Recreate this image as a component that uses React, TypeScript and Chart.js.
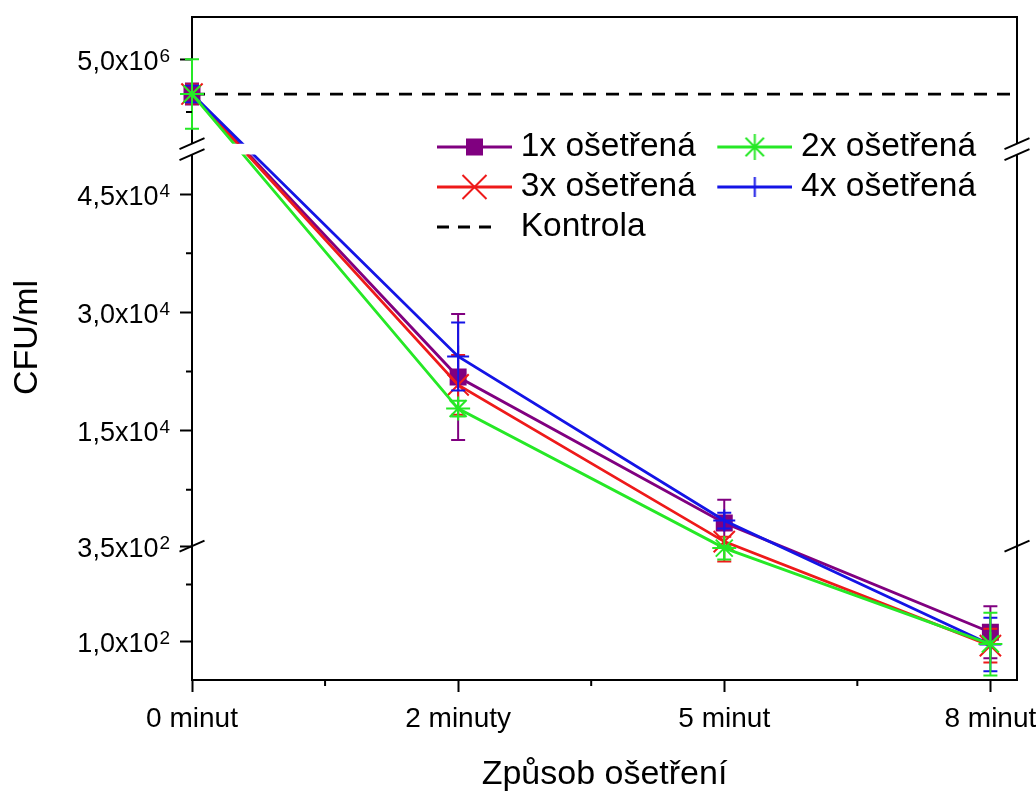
import React, { useEffect, useRef } from 'react';
import { Chart, registerables, LinearScale } from 'chart.js';

// ---------------- data ----------------
const CATEGORIES = ['0 minut', '2 minuty', '5 minut', '8 minut'];
const SERIES_NAMES = ['1x ošetřená', '2x ošetřená', '3x ošetřená', '4x ošetřená'];
const CONTROL_NAME = 'Kontrola';
const X_TITLE = 'Způsob ošetření';
const Y_TITLE = 'CFU/ml';

const ONE_X = [4.67e6, 21800, 3300, 125];
const ONE_X_ERR = [0.1e6, 8000, 2950, 68];
const TWO_X = [4.67e6, 17800, 345, 94];
const TWO_X_ERR = [0.33e6, 1000, 30, 82];
const THREE_X = [4.67e6, 20800, 930, 90];
const THREE_X_ERR = [0.09e6, 3800, 620, 44];
const FOUR_X = [4.67e6, 24400, 3600, 93];
const FOUR_X_ERR = [0.08e6, 4300, 1000, 70];
const CONTROL_VALUE = 4.67e6;

const Y_MAJOR_TICKS = [100, 350, 15000, 30000, 45000, 5e6];
const Y_TICK_MANTISSA = ['1,0x10', '3,5x10', '1,5x10', '3,0x10', '4,5x10', '5,0x10'];
const Y_TICK_EXPONENT = ['2', '2', '4', '4', '4', '6'];
const Y_MINOR_TICKS = [250, 7500, 22500, 37500, 4.5e6];
const X_MINOR_TICKS = [0.5, 1.5, 2.5];
const X_MAX = 3.1;

// ---------------- styling ----------------
const FONT = "'Liberation Sans', Arial, sans-serif";
const PURPLE = '#800080';
const GREEN = '#26e826';
const RED = '#ee1a1a';
const BLUE = '#1414e6';
const Y_TICK_SIZE = 27;
const SUP_SIZE = 19;
const X_TICK_SIZE = 28;
const TITLE_SIZE = 34;
const LEGEND_SIZE = 33.5;
const LEGEND_SAMPLE_X = 437;
const LEGEND_SAMPLE_LEN = 75;
const LEGEND_OVERHANG = 8;
const LEGEND_ROW1_Y = 147;
const LEGEND_COL_STEP = 280;
const LEGEND_ROW_STEP = 40;
const LINE_W = 2.8;
const CAP = 7;

// ---------------- broken y-axis definition ----------------
type Seg = { from: number; to: number; size: number; gapBefore?: number };
const Y_SEGMENTS: Seg[] = [
  { from: 0, to: 350, size: 134.4 },
  { from: 350, to: 50000, size: 393.3 },
  { from: 4.2e6, to: 5.4e6, size: 127.2, gapBefore: 11 },
];
const Y_TOTAL = Y_SEGMENTS.reduce((s, g) => s + g.size + (g.gapBefore || 0), 0);
const Y_TITLE_SHIFT = -11;

function toDisplay(v: number): number {
  let off = 0;
  for (let k = 0; k < Y_SEGMENTS.length; k++) {
    const s = Y_SEGMENTS[k];
    off += s.gapBefore || 0;
    if (v <= s.to || k === Y_SEGMENTS.length - 1) {
      if (k > 0 && v < s.from) return off;
      return off + ((v - s.from) / (s.to - s.from)) * s.size;
    }
    off += s.size;
  }
  return off;
}
function fromDisplay(d: number): number {
  let off = 0;
  for (let k = 0; k < Y_SEGMENTS.length; k++) {
    const s = Y_SEGMENTS[k];
    off += s.gapBefore || 0;
    if (d <= off + s.size || k === Y_SEGMENTS.length - 1) {
      return s.from + ((d - off) / s.size) * (s.to - s.from);
    }
    off += s.size;
  }
  return 0;
}

class BrokenLinearScale extends LinearScale {
  static id = 'brokenLinear';
  static defaults = {};
  determineDataLimits() {
    (this as any).min = Y_SEGMENTS[0].from;
    (this as any).max = Y_SEGMENTS[Y_SEGMENTS.length - 1].to;
  }
  buildTicks() {
    return Y_MAJOR_TICKS.map((value) => ({ value })) as any;
  }
  getPixelForValue(value: number) {
    return this.getPixelForDecimal(toDisplay(value) / Y_TOTAL);
  }
  getValueForPixel(pixel: number) {
    return fromDisplay(this.getDecimalForPixel(pixel) * Y_TOTAL);
  }
  drawTitle() {
    const t = (this as any).top;
    (this as any).top = t + 2 * Y_TITLE_SHIFT;
    (LinearScale.prototype as any).drawTitle.call(this);
    (this as any).top = t;
  }
  drawLabels() {
    const self = this as any;
    const ctx: CanvasRenderingContext2D = self.ctx;
    const opts = self.options;
    const xRight = self.right - opts.grid.tickLength - opts.ticks.padding;
    const capH = 0.716 * Y_TICK_SIZE;
    ctx.save();
    ctx.fillStyle = '#000';
    ctx.textBaseline = 'alphabetic';
    self.ticks.forEach((t: any) => {
      const i = Y_MAJOR_TICKS.indexOf(t.value);
      if (i < 0) return;
      const y = this.getPixelForValue(t.value);
      const base = y + capH / 2 + 1;
      ctx.font = `${SUP_SIZE}px ${FONT}`;
      const ew = ctx.measureText(Y_TICK_EXPONENT[i]).width;
      ctx.textAlign = 'left';
      ctx.fillText(Y_TICK_EXPONENT[i], xRight - ew, base - 8);
      ctx.font = `${Y_TICK_SIZE}px ${FONT}`;
      ctx.textAlign = 'right';
      ctx.fillText(Y_TICK_MANTISSA[i], xRight - ew - 1, base);
    });
    ctx.restore();
  }
}

Chart.register(...registerables, BrokenLinearScale as any);

function makeLegendImage(kind: string, color: string, boxW: number, h: number) {
  const c = document.createElement('canvas');
  c.width = boxW + 2 * LEGEND_OVERHANG;
  c.height = h;
  const g = c.getContext('2d')!;
  const x1 = c.width;
  const x0 = x1 - LEGEND_SAMPLE_LEN;
  const cy = h / 2;
  const cx = (x0 + x1) / 2;
  g.strokeStyle = color;
  g.fillStyle = color;
  g.lineWidth = LINE_W;
  g.beginPath();
  if (kind === 'dash') {
    g.setLineDash([12, 9]);
    g.moveTo(x0, cy);
    g.lineTo(x0 + 54, cy);
    g.stroke();
    return c;
  }
  g.moveTo(x0, cy);
  g.lineTo(x1, cy);
  g.stroke();
  g.lineWidth = 2;
  g.beginPath();
  if (kind === 'rect') {
    g.fillRect(cx - 8.5, cy - 8.5, 17, 17);
  } else if (kind === 'star') {
    const r = 13;
    for (let k = 0; k < 4; k++) {
      const a = (k * Math.PI) / 4;
      g.moveTo(cx - Math.cos(a) * r, cy - Math.sin(a) * r);
      g.lineTo(cx + Math.cos(a) * r, cy + Math.sin(a) * r);
    }
    g.stroke();
  } else if (kind === 'crossRot') {
    const r = 12;
    g.moveTo(cx - r, cy - r);
    g.lineTo(cx + r, cy + r);
    g.moveTo(cx + r, cy - r);
    g.lineTo(cx - r, cy + r);
    g.stroke();
  } else if (kind === 'cross') {
    g.moveTo(cx, cy - 10);
    g.lineTo(cx, cy + 10);
    g.stroke();
  }
  return c;
}

const errorBarsPlugin = {
  id: 'errorBars',
  afterDatasetDraw(chart: any, args: any) {
    const ds = chart.data.datasets[args.index];
    if (!ds.errors) return;
    const xs = chart.scales.x;
    const ys = chart.scales.y;
    const ctx = chart.ctx;
    ctx.save();
    ctx.strokeStyle = ds.borderColor;
    ctx.lineWidth = 2;
    ds.data.forEach((pt: any, j: number) => {
      const e = ds.errors[j];
      if (!e) return;
      const x = xs.getPixelForValue(pt.x);
      const y1 = ys.getPixelForValue(pt.y + e);
      const y2 = ys.getPixelForValue(pt.y - e);
      ctx.beginPath();
      ctx.moveTo(x, y1);
      ctx.lineTo(x, y2);
      ctx.moveTo(x - CAP, y1);
      ctx.lineTo(x + CAP, y1);
      ctx.moveTo(x - CAP, y2);
      ctx.lineTo(x + CAP, y2);
      ctx.stroke();
    });
    ctx.restore();
  },
};

const decorPlugin = {
  id: 'decor',
  beforeDatasetsDraw(chart: any) {
    const { ctx, width, height } = chart;
    const ys = chart.scales.y;
    const gTop = ys.getPixelForValue(Y_SEGMENTS[2].from);
    const gBot = ys.getPixelForValue(Y_SEGMENTS[1].to);
    ctx.save();
    ctx.beginPath();
    ctx.rect(0, 0, width, height);
    ctx.rect(0, gTop, width, gBot - gTop);
    ctx.clip('evenodd');
  },
  afterDatasetsDraw(chart: any) {
    const { ctx, chartArea: a } = chart;
    ctx.restore();
    const ys = chart.scales.y;
    const xs = chart.scales.x;
    const gTop = ys.getPixelForValue(Y_SEGMENTS[2].from);
    const gBot = ys.getPixelForValue(Y_SEGMENTS[1].to);
    const pLow = ys.getPixelForValue(Y_SEGMENTS[0].to);
    ctx.save();
    ctx.strokeStyle = '#000';
    ctx.lineWidth = 2;
    ctx.beginPath();
    ctx.moveTo(a.left - 1, a.top);
    ctx.lineTo(a.right, a.top);
    ctx.lineTo(a.right, gTop);
    ctx.moveTo(a.right, gBot);
    ctx.lineTo(a.right, a.bottom + 1);
    ctx.stroke();
    ctx.fillStyle = '#fff';
    ctx.fillRect(a.left - 3, gTop, 6, gBot - gTop);
    const slash = (x: number, y: number) => {
      ctx.moveTo(x - 12.5, y + 5.5);
      ctx.lineTo(x + 12.5, y - 5.5);
    };
    ctx.beginPath();
    [a.left, a.right].forEach((x: number) => {
      slash(x, gTop);
      slash(x, gBot);
      slash(x, pLow);
    });
    Y_MINOR_TICKS.forEach((v) => {
      const p = ys.getPixelForValue(v);
      ctx.moveTo(a.left - 6, p);
      ctx.lineTo(a.left, p);
    });
    X_MINOR_TICKS.forEach((v) => {
      const p = xs.getPixelForValue(v);
      ctx.moveTo(p, a.bottom);
      ctx.lineTo(p, a.bottom + 6);
    });
    ctx.stroke();
    ctx.restore();
  },
};

function makePlacer(legendLeft: number, legendTop: number, rowWidth: number) {
  return {
    id: 'legendPlacer',
    beforeLayout(chart: any) {
      const lg = chart.legend;
      if (lg && !lg.__patched) {
        const orig = lg.fit.bind(lg);
        lg.fit = function () {
          orig();
          this.height = 0;
        };
        lg.__patched = true;
      }
    },
    beforeDraw(chart: any) {
      const lg = chart.legend;
      if (!lg) return;
      lg.left = legendLeft;
      lg.top = legendTop;
      lg.right = legendLeft + rowWidth;
      lg.bottom = chart.chartArea.bottom;
      lg.width = lg.right - lg.left;
      lg.height = lg.bottom - lg.top;
    },
  };
}

const toPoints = (arr: number[]) => arr.map((y, i) => ({ x: i, y }));

export default function App() {
  const ref = useRef<HTMLCanvasElement>(null);
  useEffect(() => {
    const canvas = ref.current;
    if (!canvas) return;
    Chart.defaults.font.family = FONT;
    Chart.defaults.color = '#000';

    const mctx = document.createElement('canvas').getContext('2d')!;
    mctx.font = `${LEGEND_SIZE}px ${FONT}`;
    const textW = mctx.measureText(SERIES_NAMES[0]).width;
    const pad = LEGEND_ROW_STEP - LEGEND_SIZE;
    const boxW = Math.round(LEGEND_COL_STEP - LEGEND_SIZE / 2 - textW - pad);
    const boxEnd = LEGEND_SAMPLE_X + LEGEND_SAMPLE_LEN - LEGEND_OVERHANG;
    const legendLeft = boxEnd - boxW - pad;
    const legendTop = LEGEND_ROW1_Y - LEGEND_SIZE / 2 - pad;
    const rowWidth = pad + 2 * LEGEND_COL_STEP + 6;

    const imgs = [
      makeLegendImage('rect', PURPLE, boxW, 32),
      makeLegendImage('star', GREEN, boxW, 32),
      makeLegendImage('crossRot', RED, boxW, 32),
      makeLegendImage('cross', BLUE, boxW, 32),
      makeLegendImage('dash', '#000', boxW, 32),
    ];

    const lineDs = (label: string, data: number[], errors: number[], color: string, style: string, radius: number, order: number) => ({
      label,
      data: toPoints(data),
      errors,
      borderColor: color,
      backgroundColor: color,
      borderWidth: LINE_W,
      pointStyle: style,
      pointRadius: radius,
      pointHoverRadius: radius,
      pointBorderWidth: 2,
      pointBorderColor: color,
      pointBackgroundColor: color,
      tension: 0,
      fill: false,
      clip: false,
      order,
    });

    const chart = new Chart(canvas, {
      type: 'line',
      data: {
        datasets: [
          lineDs(SERIES_NAMES[0], ONE_X, ONE_X_ERR, PURPLE, 'rect', 10.6, 4),
          lineDs(SERIES_NAMES[1], TWO_X, TWO_X_ERR, GREEN, 'star', 12, 1),
          lineDs(SERIES_NAMES[2], THREE_X, THREE_X_ERR, RED, 'crossRot', 15, 3),
          lineDs(SERIES_NAMES[3], FOUR_X, FOUR_X_ERR, BLUE, 'cross', 11, 2),
          {
            label: CONTROL_NAME,
            data: [
              { x: 0, y: CONTROL_VALUE },
              { x: X_MAX, y: CONTROL_VALUE },
            ],
            borderColor: '#000',
            borderWidth: LINE_W,
            borderDash: [13, 10],
            pointRadius: 0,
            fill: false,
            clip: false,
            order: 5,
          } as any,
        ],
      },
      options: {
        responsive: false,
        animation: false,
        events: [],
        layout: { padding: { left: 0, right: 19, top: 14, bottom: 0 } },
        scales: {
          x: {
            type: 'linear',
            min: 0,
            max: X_MAX,
            afterBuildTicks: (scale: any) => {
              scale.ticks = CATEGORIES.map((_, i) => ({ value: i }));
            },
            afterFit: (scale: any) => {
              scale.height = 116;
              scale.paddingLeft = 0;
              scale.paddingRight = 0;
            },
            ticks: {
              autoSkip: false,
              maxRotation: 0,
              padding: 10,
              color: '#000',
              font: { size: X_TICK_SIZE },
              callback: (v: any) => CATEGORIES[v] ?? '',
            },
            grid: { drawOnChartArea: false, tickLength: 12, tickWidth: 2, tickColor: '#000' },
            border: { display: true, color: '#000', width: 2 },
            title: {
              display: true,
              text: X_TITLE,
              color: '#000',
              font: { size: TITLE_SIZE },
              padding: { top: 0, bottom: 1 },
            },
          },
          y: {
            type: 'brokenLinear' as any,
            afterFit: (scale: any) => {
              scale.width = 192;
              scale.paddingTop = 0;
              scale.paddingBottom = 0;
            },
            ticks: {
              autoSkip: false,
              padding: 10,
              color: '#000',
              font: { size: Y_TICK_SIZE },
              callback: (v: any) => {
                const i = Y_MAJOR_TICKS.indexOf(v);
                return i >= 0 ? Y_TICK_MANTISSA[i] + Y_TICK_EXPONENT[i] : '';
              },
            },
            grid: { drawOnChartArea: false, tickLength: 12, tickWidth: 2, tickColor: '#000' },
            border: { display: true, color: '#000', width: 2 },
            title: {
              display: true,
              text: Y_TITLE,
              color: '#000',
              font: { size: TITLE_SIZE },
              padding: { top: 7, bottom: 0 },
            },
          } as any,
        },
        plugins: {
          tooltip: { enabled: false },
          legend: {
            display: true,
            position: 'top',
            align: 'start',
            labels: {
              usePointStyle: true,
              pointStyleWidth: boxW,
              padding: pad,
              color: '#000',
              font: { size: LEGEND_SIZE },
              generateLabels: (ch: any) =>
                ch.data.datasets.map((ds: any, i: number) => ({
                  text: ds.label,
                  datasetIndex: i,
                  pointStyle: imgs[i],
                  fillStyle: 'rgba(0,0,0,0)',
                  strokeStyle: 'rgba(0,0,0,0)',
                  lineWidth: 0,
                  hidden: false,
                  fontColor: '#000',
                })),
            },
          },
        },
      } as any,
      plugins: [errorBarsPlugin, decorPlugin, makePlacer(legendLeft, legendTop, rowWidth)],
    });
    return () => chart.destroy();
  }, []);

  return (
    <div style={{ position: 'absolute', left: 0, top: 0, width: 1036, height: 796, background: '#fff' }}>
      <canvas ref={ref} width={1036} height={796} style={{ display: 'block' }} />
    </div>
  );
}
